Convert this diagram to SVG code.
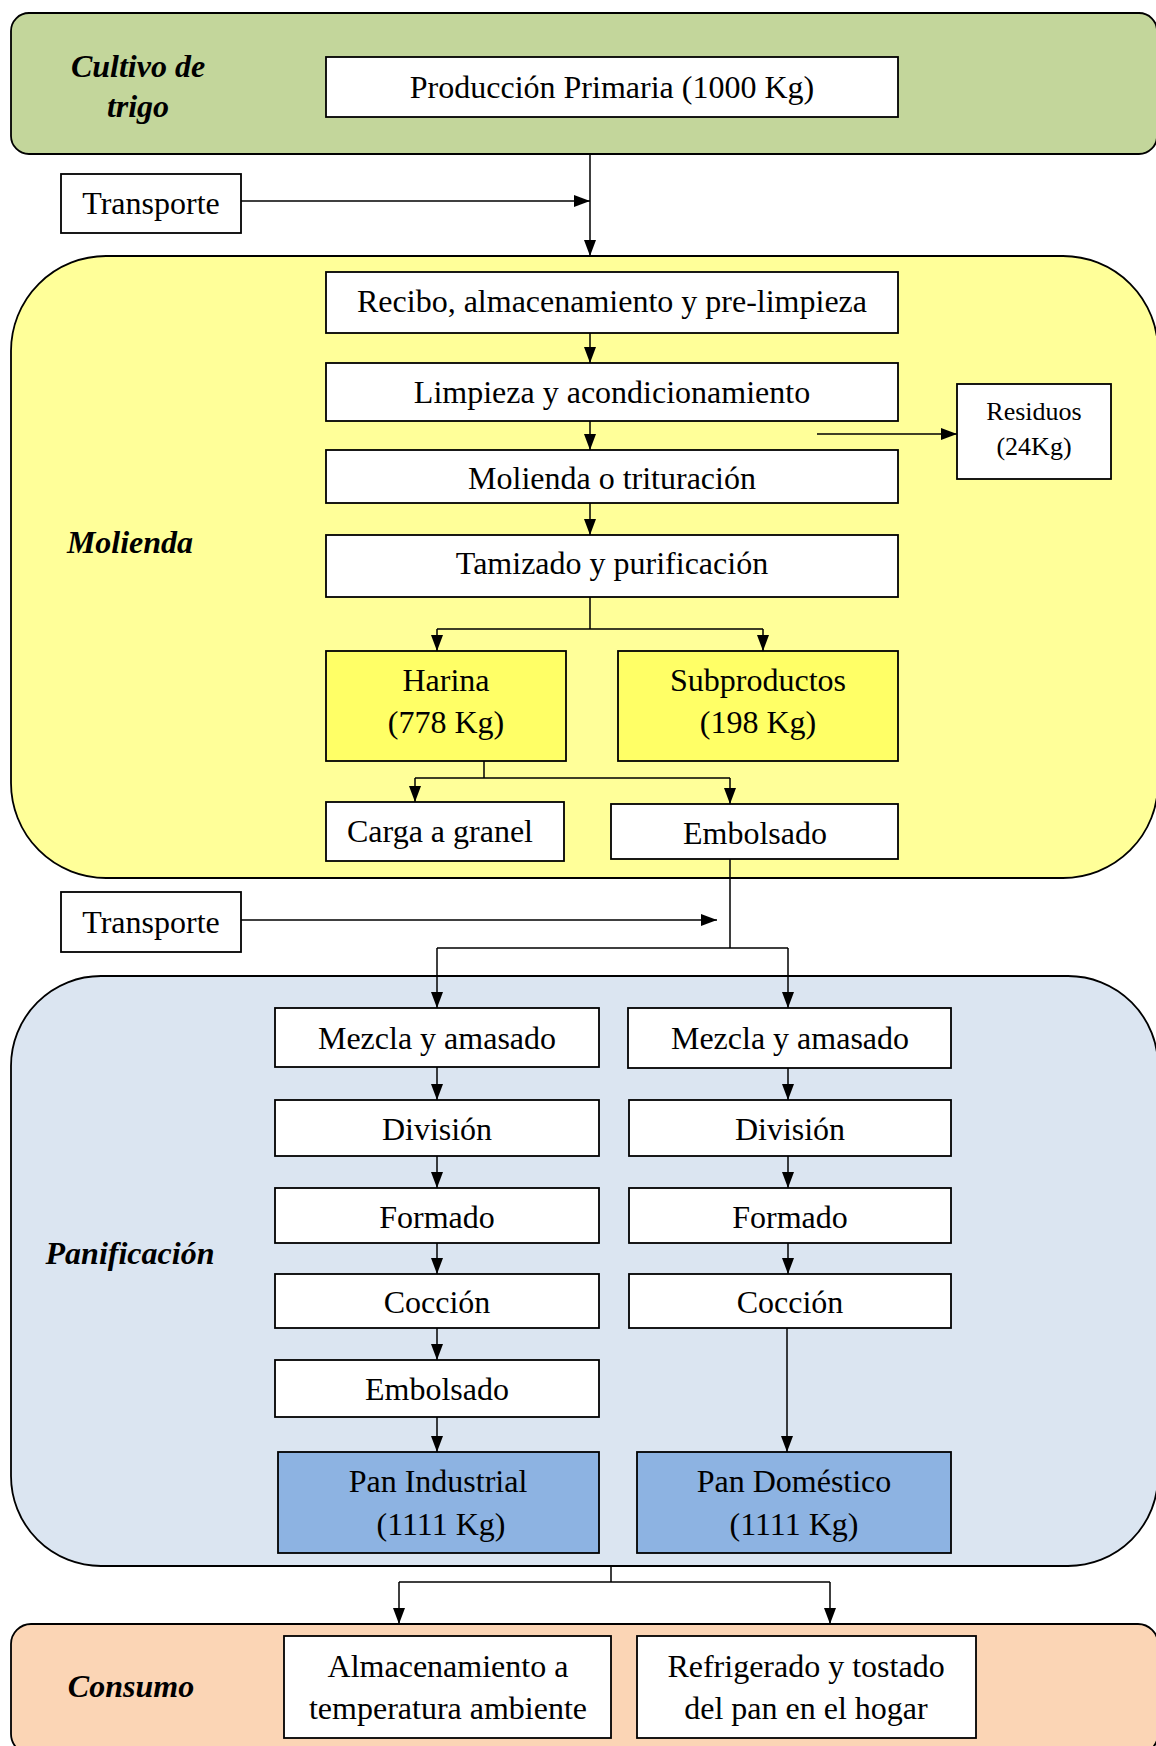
<svg xmlns="http://www.w3.org/2000/svg" width="1156" height="1746" viewBox="0 0 1156 1746">
<style>
text{font-family:"Liberation Serif","Times New Roman",serif;fill:#000;text-anchor:middle}
.t{font-size:32px}
.s{font-size:26px}
.lab{font-size:32px;font-weight:bold;font-style:italic}
.box{fill:#fff;stroke:#000;stroke-width:1.8}
.yel{fill:#FFFF66;stroke:#000;stroke-width:1.8}
.blu{fill:#8DB3E2;stroke:#000;stroke-width:1.8}
.reg{stroke:#000;stroke-width:1.8}
.c{fill:none;stroke:#000;stroke-width:1.5}
.ca{fill:none;stroke:#000;stroke-width:1.5;marker-end:url(#ah)}
</style>
<defs>
<marker id="ah" markerUnits="userSpaceOnUse" markerWidth="16" markerHeight="12" refX="16" refY="6" orient="auto">
<path d="M0,0 L16,6 L0,12 z" fill="#000"/>
</marker>
</defs>

<g id="regions">
<g id="reg-cultivo"><rect class="reg" x="11" y="13" width="1146" height="141" rx="18" fill="#C3D69B"/>
<text class="lab" x="138" y="77">Cultivo de</text><text class="lab" x="138" y="117">trigo</text></g>
<g id="reg-molienda"><rect class="reg" x="11" y="256" width="1147" height="622" rx="95" fill="#FFFF99"/>
<text class="lab" x="130" y="553">Molienda</text></g>
<g id="reg-panificacion"><rect class="reg" x="11" y="976" width="1147" height="590" rx="90" fill="#DBE5F1"/>
<text class="lab" x="130" y="1264">Panificación</text></g>
<g id="reg-consumo"><rect class="reg" x="11" y="1624" width="1147" height="130" rx="20" fill="#FBD5B5"/>
<text class="lab" x="131" y="1697">Consumo</text></g>
</g>

<g id="connectors">
<path class="ca" d="M590,154 V256"/>
<path class="ca" d="M241,201 H590"/>
<path class="ca" d="M590,333 V363"/>
<path class="ca" d="M590,421 V450"/>
<path class="ca" d="M817,434 H957"/>
<path class="ca" d="M590,503 V535"/>
<path class="c" d="M590,597 V629 M437,629 H763"/>
<path class="ca" d="M437,629 V651"/>
<path class="ca" d="M763,629 V651"/>
<path class="c" d="M484,761 V778 M415,778 H730"/>
<path class="ca" d="M415,778 V802"/>
<path class="ca" d="M730,778 V804"/>
<path class="c" d="M730,859 V948 M437,948 H788"/>
<path class="ca" d="M437,948 V1008"/>
<path class="ca" d="M788,948 V1008"/>
<path class="ca" d="M241,920 H717"/>
<path class="ca" d="M437,1067 V1100"/>
<path class="ca" d="M437,1156 V1188"/>
<path class="ca" d="M437,1243 V1274"/>
<path class="ca" d="M437,1328 V1360"/>
<path class="ca" d="M437,1417 V1452"/>
<path class="ca" d="M788,1068 V1100"/>
<path class="ca" d="M788,1156 V1188"/>
<path class="ca" d="M788,1243 V1274"/>
<path class="ca" d="M787,1328 V1452"/>
<path class="c" d="M611,1566 V1582 M399,1582 H830"/>
<path class="ca" d="M399,1582 V1624"/>
<path class="ca" d="M830,1582 V1624"/>
</g>

<g id="n-produccion"><rect class="box" x="326" y="57" width="572" height="60"/><text class="t" x="612" y="98">Producción Primaria (1000 Kg)</text></g>
<g id="n-transporte1"><rect class="box" x="61" y="174" width="180" height="59"/><text class="t" x="151" y="214">Transporte</text></g>
<g id="n-recibo"><rect class="box" x="326" y="272" width="572" height="61"/><text class="t" x="612" y="312">Recibo, almacenamiento y pre-limpieza</text></g>
<g id="n-limpieza"><rect class="box" x="326" y="363" width="572" height="58"/><text class="t" x="612" y="403">Limpieza y acondicionamiento</text></g>
<g id="n-molienda"><rect class="box" x="326" y="450" width="572" height="53"/><text class="t" x="612" y="489">Molienda o trituración</text></g>
<g id="n-tamizado"><rect class="box" x="326" y="535" width="572" height="62"/><text class="t" x="612" y="574">Tamizado y purificación</text></g>
<g id="n-residuos"><rect class="box" x="957" y="384" width="154" height="95"/><text class="s" x="1034" y="420">Residuos</text><text class="s" x="1034" y="455">(24Kg)</text></g>
<g id="n-harina"><rect class="yel" x="326" y="651" width="240" height="110"/><text class="t" x="446" y="691">Harina</text><text class="t" x="446" y="733">(778 Kg)</text></g>
<g id="n-subproductos"><rect class="yel" x="618" y="651" width="280" height="110"/><text class="t" x="758" y="691">Subproductos</text><text class="t" x="758" y="733">(198 Kg)</text></g>
<g id="n-carga"><rect class="box" x="326" y="802" width="238" height="59"/><text class="t" x="440" y="842">Carga a granel</text></g>
<g id="n-embolsado1"><rect class="box" x="611" y="804" width="287" height="55"/><text class="t" x="755" y="844">Embolsado</text></g>
<g id="n-transporte2"><rect class="box" x="61" y="892" width="180" height="60"/><text class="t" x="151" y="933">Transporte</text></g>

<g id="n-mezcla-l"><rect class="box" x="275" y="1008" width="324" height="59"/><text class="t" x="437" y="1049">Mezcla y amasado</text></g>
<g id="n-division-l"><rect class="box" x="275" y="1100" width="324" height="56"/><text class="t" x="437" y="1140">División</text></g>
<g id="n-formado-l"><rect class="box" x="275" y="1188" width="324" height="55"/><text class="t" x="437" y="1228">Formado</text></g>
<g id="n-coccion-l"><rect class="box" x="275" y="1274" width="324" height="54"/><text class="t" x="437" y="1313">Cocción</text></g>
<g id="n-embolsado2"><rect class="box" x="275" y="1360" width="324" height="57"/><text class="t" x="437" y="1400">Embolsado</text></g>
<g id="n-pan-industrial"><rect class="blu" x="278" y="1452" width="321" height="101"/><text class="t" x="438" y="1492">Pan Industrial</text><text class="t" x="441" y="1535">(1111 Kg)</text></g>

<g id="n-mezcla-r"><rect class="box" x="628" y="1008" width="323" height="60"/><text class="t" x="790" y="1049">Mezcla y amasado</text></g>
<g id="n-division-r"><rect class="box" x="629" y="1100" width="322" height="56"/><text class="t" x="790" y="1140">División</text></g>
<g id="n-formado-r"><rect class="box" x="629" y="1188" width="322" height="55"/><text class="t" x="790" y="1228">Formado</text></g>
<g id="n-coccion-r"><rect class="box" x="629" y="1274" width="322" height="54"/><text class="t" x="790" y="1313">Cocción</text></g>
<g id="n-pan-domestico"><rect class="blu" x="637" y="1452" width="314" height="101"/><text class="t" x="794" y="1492">Pan Doméstico</text><text class="t" x="794" y="1535">(1111 Kg)</text></g>

<g id="n-almacenamiento"><rect class="box" x="284" y="1636" width="327" height="102"/><text class="t" x="448" y="1677">Almacenamiento a</text><text class="t" x="448" y="1719">temperatura ambiente</text></g>
<g id="n-refrigerado"><rect class="box" x="637" y="1636" width="339" height="102"/><text class="t" x="806" y="1677">Refrigerado y tostado</text><text class="t" x="806" y="1719">del pan en el hogar</text></g>
</svg>
